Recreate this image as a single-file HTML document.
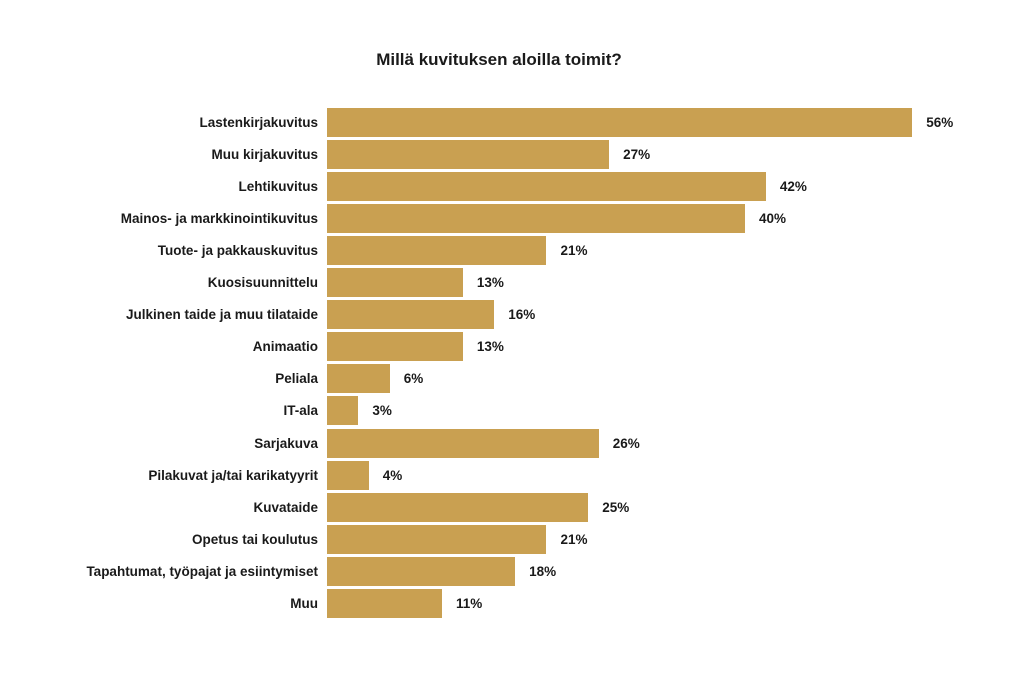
<!DOCTYPE html><html><head><style>
body{margin:0;width:1024px;height:676px;background:#fff;position:relative;font-family:"Liberation Sans",sans-serif;font-weight:bold;color:#1a1a1a}
.t{position:absolute;top:50px;left:0;width:998px;text-align:center;font-size:17px}
.b{position:absolute;left:327px;height:29px;background:#c9a051}
.l{position:absolute;right:706px;font-size:13.5px;line-height:29px;white-space:nowrap}
.v{position:absolute;font-size:13.5px;line-height:29px}
</style></head><body>
<div class="t">Millä kuvituksen aloilla toimit?</div>
<div id="c"></div>
<script>
const d=[["Lastenkirjakuvitus",56],["Muu kirjakuvitus",27],["Lehtikuvitus",42],["Mainos- ja markkinointikuvitus",40],["Tuote- ja pakkauskuvitus",21],["Kuosisuunnittelu",13],["Julkinen taide ja muu tilataide",16],["Animaatio",13],["Peliala",6],["IT-ala",3],["Sarjakuva",26],["Pilakuvat ja/tai karikatyyrit",4],["Kuvataide",25],["Opetus tai koulutus",21],["Tapahtumat, työpajat ja esiintymiset",18],["Muu",11]];
let h="";d.forEach((r,i)=>{const y=108+i*32.05,w=r[1]*10.45;
h+=`<div class="l" style="top:${y}px">${r[0]}</div><div class="b" style="top:${y}px;width:${w}px"></div><div class="v" style="top:${y}px;left:${327+w+14}px">${r[1]}%</div>`});
document.getElementById("c").innerHTML=h;
</script></body></html>
